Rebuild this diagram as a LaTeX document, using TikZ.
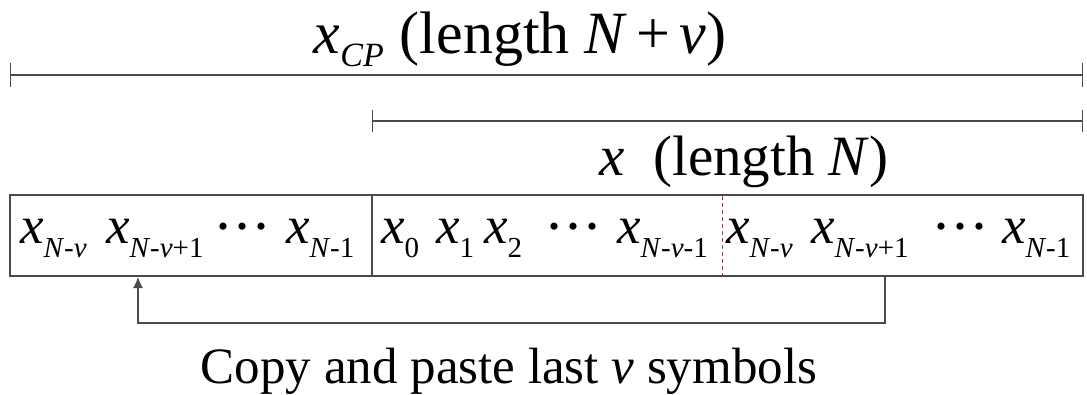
\documentclass[tikz,border=0pt]{standalone}
\usepackage{fontspec}
\setmainfont{Liberation Serif}
\usetikzlibrary{arrows.meta}
\definecolor{linegray}{HTML}{4A4A4A}
\definecolor{dashred}{HTML}{C0304A}
\newcommand{\bigsz}{\fontsize{60}{66}\selectfont}
\newcommand{\midsz}{\fontsize{57}{62}\selectfont}
\newcommand{\boxsz}{\fontsize{53}{58}\selectfont}
\newcommand{\botsz}{\fontsize{51}{56}\selectfont}
\newcommand{\bsub}[1]{\raisebox{-14pt}{\fontsize{29}{32}\selectfont #1}}
\newcommand{\iN}{\textit{N}}
\newcommand{\iv}{\textit{v}}
\newcommand{\ix}{\textit{x}}
\newcommand{\onedot}{\hbox to 6pt{\hss·\hss}}
\newcommand{\tdots}{\raisebox{-3pt}{\fontsize{60}{60}\selectfont\hbox to 44pt{\onedot\hss\onedot\hss\onedot}}}
\begin{document}
\begin{tikzpicture}[x=1pt,y=-1pt,
  every node/.style={inner sep=0pt,outer sep=0pt},
  dimline/.style={draw=linegray,line width=1.3pt},
  item/.style={anchor=base west,font=\boxsz},
  frame/.style={draw=linegray,line width=1.4pt}]
\useasboundingbox (0,0) rectangle (1087,394);
% top label and dimension line
\node[anchor=base,font=\bigsz] (lblcp) at (520,53)
  {\ix\raisebox{-13pt}{\fontsize{34}{38}\selectfont\textit{CP}}\hspace{16pt}(length \iN\hspace{9pt}+\hspace{9pt}\iv)};
\coordinate (a1) at (10,75);
\coordinate (a2) at (1083,75);
\draw[dimline,{Bar[width=24pt]}-{Bar[width=24pt]}] (a1) -- (a2);
\coordinate (b1) at (372,121);
\coordinate (b2) at (1083,121);
\draw[dimline,{Bar[width=22pt]}-{Bar[width=22pt]}] (b1) -- (b2);
\node[anchor=base,font=\midsz] (lblx) at (744,175) {\ix\ \ (length \iN)};
% the box
\node[frame,anchor=north west,minimum width=1073pt,minimum height=81pt] (box) at (10,195) {};
\coordinate (d1) at (372,195);
\coordinate (d2) at (372,276);
\draw[frame] (d1) -- (d2);
\coordinate (r1) at (722,196);
\coordinate (r2) at (722,275);
\draw[dashred,line width=0.9pt,dash pattern=on 4pt off 3pt] (r1) -- (r2);
% left section
\node[item] (l1) at (20,243) {\ix\bsub{\iN-\iv}};
\node[item] (l2) at (106,243) {\ix\bsub{\iN-\iv+1}};
\node[item] (l3) at (220,243) {\tdots};
\node[item] (l4) at (286,243) {\ix\bsub{\iN-1}};
% middle section
\node[item] (m0) at (381,243) {\ix\bsub{0}};
\node[item] (m1) at (436,243) {\ix\bsub{1}};
\node[item] (m2) at (484,243) {\ix\bsub{2}};
\node[item] (m3) at (551,243) {\tdots};
\node[item] (m4) at (617,243) {\ix\bsub{\iN-\iv-1}};
% right section
\node[item] (r5) at (726,243) {\ix\bsub{\iN-\iv}};
\node[item] (r6) at (811,243) {\ix\bsub{\iN-\iv+1}};
\node[item] (r7) at (938,243) {\tdots};
\node[item] (r8) at (1002,243) {\ix\bsub{\iN-1}};
% copy arrow
\coordinate (src) at (885,276);
\coordinate (dst) at (138,277);
\draw[linegray,line width=1.3pt,-{Latex[length=11pt,width=10pt]}] (src) -- ++(0,47) -| (dst);
\node[anchor=base,font=\botsz] (cap) at (509,383) {Copy and paste last \iv\ symbols};
\end{tikzpicture}
\end{document}
